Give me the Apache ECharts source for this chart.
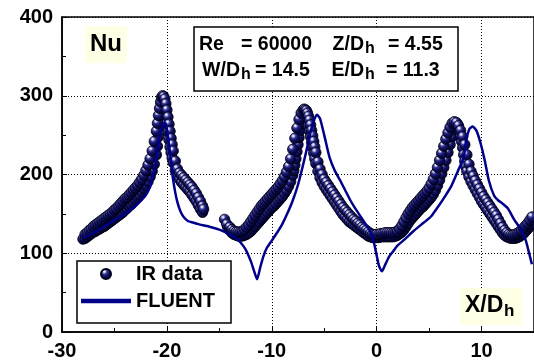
<!DOCTYPE html>
<html>
<head>
<meta charset="utf-8">
<script src="https://cdn.jsdelivr.net/npm/echarts@6/dist/echarts.min.js"></script>
<style>
html, body { margin: 0; padding: 0; background: #fff; }
#chart { width: 534px; height: 362px; }
</style>
</head>
<body>
<div id="chart"></div>
<script>
// Local Nusselt number along the channel wall: IR thermography vs FLUENT prediction

// X axis ticks (X/Dh) and Y axis ticks (Nu)
const xTicks = { min: -30, max: 15, step: 10 };
const yTicks = { min: 0, max: 400, step: 100 };

// IR measurement, first module, lower scan line  [X/Dh, Nu]
const irLowerM1 = [
  [-28.0,118],[-27.8,119],[-27.6,121],[-27.4,123],[-27.2,125],[-27.0,127],[-26.8,128],[-26.6,130],
  [-26.4,131],[-26.2,133],[-26.0,134],[-25.8,136],[-25.6,138],[-25.4,140],[-25.2,142],[-25.0,144],
  [-24.8,146],[-24.6,148],[-24.4,150],[-24.2,152],[-24.0,155],[-23.8,157],[-23.6,160],[-23.4,162],
  [-23.2,165],[-23.0,168],[-22.8,171],[-22.6,174],[-22.4,178],[-22.2,182],[-22.0,186],[-21.8,191],
  [-21.6,197],[-21.4,204],[-21.2,213],[-21.0,225],[-20.9,236],[-20.8,248],[-20.7,260],[-20.6,271],
  [-20.5,281],[-20.4,289],[-20.3,294],[-20.2,286],[-20.1,276],[-20.0,265],[-19.9,254],[-19.8,244],
  [-19.7,235],[-19.6,228],[-19.5,221],[-19.4,215],[-19.2,205],[-19.0,198],[-18.8,194],[-18.6,190],
  [-18.4,187],[-18.2,184],[-18.0,181],[-17.8,178],[-17.6,174],[-17.4,170],[-17.2,166],[-17.0,161],
  [-16.8,156],[-16.6,152]
];

// IR measurement, first module, upper scan line  [X/Dh, Nu]
const irUpperM1 = [
  [-27.8,124],[-27.6,126],[-27.4,129],[-27.2,131],[-27.0,134],[-26.8,136],[-26.6,138],[-26.4,140],
  [-26.2,142],[-26.0,144],[-25.8,146],[-25.6,148],[-25.4,150],[-25.2,152],[-25.0,155],[-24.8,157],
  [-24.6,160],[-24.4,163],[-24.2,166],[-24.0,169],[-23.8,171],[-23.6,174],[-23.4,177],[-23.2,180],
  [-23.0,183],[-22.8,186],[-22.6,190],[-22.4,194],[-22.2,199],[-22.0,205],[-21.8,212],[-21.6,220],
  [-21.4,230],[-21.2,242],[-21.0,255],[-20.9,265],[-20.8,275],[-20.7,284],[-20.6,292],[-20.5,298],
  [-20.4,300],[-20.3,299],[-20.2,296],[-20.1,290],[-20.0,282],[-19.9,273],[-19.8,264],[-19.7,255],
  [-19.6,246],[-19.5,238],[-19.4,230],[-19.2,217],[-19.0,207],[-18.8,202],[-18.6,199],[-18.4,196],
  [-18.2,193],[-18.0,190],[-17.8,187],[-17.6,184],[-17.4,180],[-17.2,176],[-17.0,171],[-16.8,166],
  [-16.6,160],[-16.5,156]
];

// IR measurement, second and third modules, lower scan line  [X/Dh, Nu]
const irLowerM23 = [
  [-14.2,133],[-14.0,129],[-13.8,126],[-13.6,124],[-13.4,123],[-13.2,122],[-13.0,122],[-12.8,122],
  [-12.6,123],[-12.4,124],[-12.2,126],[-12.0,128],[-11.8,131],[-11.6,134],[-11.4,137],[-11.2,140],
  [-11.0,143],[-10.8,146],[-10.6,149],[-10.4,152],[-10.2,155],[-10.0,158],[-9.8,160],[-9.6,163],
  [-9.4,166],[-9.2,169],[-9.0,172],[-8.8,176],[-8.6,180],[-8.4,185],[-8.2,191],[-8.0,199],
  [-7.9,205],[-7.8,212],[-7.7,220],[-7.6,229],[-7.5,238],[-7.4,247],[-7.3,256],[-7.2,264],
  [-7.1,271],[-7.0,276],[-6.9,280],[-6.8,281],[-6.7,276],[-6.6,269],[-6.5,262],[-6.4,255],
  [-6.3,248],[-6.2,241],[-6.1,234],[-6.0,227],[-5.9,220],[-5.8,214],[-5.6,204],[-5.4,196],
  [-5.2,190],[-5.0,185],[-4.8,181],[-4.6,177],[-4.4,173],[-4.2,169],[-4.0,165],[-3.8,161],
  [-3.6,157],[-3.4,153],[-3.2,149],[-3.0,146],[-2.8,143],[-2.6,140],[-2.4,138],[-2.2,136],
  [-2.0,134],[-1.8,132],[-1.6,130],[-1.4,128],[-1.2,126],[-1.0,124],[-0.8,122],[-0.6,121],
  [-0.4,120],[-0.2,120],[0.0,120],[0.2,120],[0.4,121],[0.6,121],[0.8,121],[1.0,121],
  [1.2,121],[1.4,121],[1.6,121],[1.8,122],[2.0,123],[2.2,125],[2.4,127],[2.6,130],
  [2.8,134],[3.0,138],[3.2,142],[3.4,145],[3.6,148],[3.8,151],[4.0,154],[4.2,157],
  [4.4,159],[4.6,162],[4.8,165],[5.0,168],[5.2,171],[5.4,175],[5.6,180],[5.8,186],
  [6.0,193],[6.2,201],[6.4,209],[6.6,218],[6.8,228],[7.0,238],[7.2,248],[7.4,257],
  [7.5,262],[7.6,264],[7.7,264],[7.8,260],[7.9,255],[8.0,249],[8.1,242],[8.2,234],
  [8.3,225],[8.4,217],[8.5,210],[8.6,204],[8.8,197],[9.0,191],[9.2,186],[9.4,181],
  [9.6,176],[9.8,171],[10.0,166],[10.2,162],[10.4,158],[10.6,154],[10.8,150],[11.0,146],
  [11.2,142],[11.4,138],[11.6,134],[11.8,130],[12.0,126],[12.2,123],[12.4,121],[12.6,120],
  [12.8,119],[13.0,119],[13.2,119],[13.4,120],[13.6,121],[13.8,123],[14.0,125],[14.2,128],
  [14.4,131],[14.6,134],[14.8,138]
];

// IR measurement, second and third modules, upper scan line  [X/Dh, Nu]
const irUpperM23 = [
  [-14.5,143],[-14.3,137],[-14.0,133],[-13.8,130],[-13.6,128],[-13.4,127],[-13.2,127],[-13.0,127],
  [-12.8,128],[-12.6,130],[-12.4,133],[-12.2,136],[-12.0,140],[-11.8,144],[-11.6,148],[-11.4,152],
  [-11.2,156],[-11.0,160],[-10.8,163],[-10.6,166],[-10.4,169],[-10.2,172],[-10.0,175],[-9.8,178],
  [-9.6,181],[-9.4,184],[-9.2,188],[-9.0,192],[-8.8,197],[-8.6,203],[-8.4,210],[-8.2,220],
  [-8.0,232],[-7.8,246],[-7.6,259],[-7.4,270],[-7.2,278],[-7.0,282],[-6.9,283],[-6.8,282],
  [-6.7,281],[-6.6,278],[-6.5,274],[-6.4,269],[-6.3,263],[-6.2,256],[-6.1,249],[-6.0,242],
  [-5.9,235],[-5.8,228],[-5.6,216],[-5.4,207],[-5.2,200],[-5.0,194],[-4.8,190],[-4.6,186],
  [-4.4,182],[-4.2,178],[-4.0,174],[-3.8,170],[-3.6,166],[-3.4,162],[-3.2,158],[-3.0,155],
  [-2.8,152],[-2.6,149],[-2.4,146],[-2.2,143],[-2.0,141],[-1.8,138],[-1.6,136],[-1.4,133],
  [-1.2,131],[-1.0,129],[-0.8,127],[-0.6,125],[-0.4,124],[-0.2,123],[0.0,124],[0.2,124],
  [0.4,125],[0.6,125],[0.8,126],[1.0,126],[1.2,126],[1.4,126],[1.6,126],[1.8,127],
  [2.0,128],[2.2,131],[2.4,135],[2.6,140],[2.8,145],[3.0,150],[3.2,154],[3.4,158],
  [3.6,161],[3.8,164],[4.0,167],[4.2,170],[4.4,173],[4.6,176],[4.8,179],[5.0,183],
  [5.2,188],[5.4,194],[5.6,201],[5.8,209],[6.0,218],[6.2,227],[6.4,236],[6.6,245],
  [6.8,253],[7.0,260],[7.2,265],[7.4,267],[7.6,266],[7.8,262],[8.0,256],[8.2,248],
  [8.4,238],[8.6,225],[8.8,213],[9.0,204],[9.2,198],[9.4,192],[9.6,187],[9.8,182],
  [10.0,177],[10.2,172],[10.4,168],[10.6,164],[10.8,160],[11.0,156],[11.2,152],[11.4,148],
  [11.6,143],[11.8,138],[12.0,133],[12.2,129],[12.4,126],[12.6,124],[12.8,123],[13.0,123],
  [13.2,124],[13.4,125],[13.6,127],[13.8,129],[14.0,132],[14.2,135],[14.4,138],[14.6,142],
  [14.8,146]
];

// FLUENT prediction  [X/Dh, Nu]
const fluent = [
  [-28.0,119],[-27.0,126],[-26.0,134],[-25.0,142],[-24.0,150],[-23.0,160],[-22.0,174],[-21.6,185],
  [-21.3,200],[-21.0,222],[-20.8,240],[-20.6,255],[-20.4,263],[-20.2,266],[-20.0,258],[-19.8,238],
  [-19.6,215],[-19.4,193],[-19.2,177],[-19.0,165],[-18.7,153],[-18.4,146],[-18.0,141],[-17.5,139],
  [-17.0,137],[-16.0,134],[-15.0,130],[-14.0,124],[-13.5,120],[-13.0,114],[-12.5,105],[-12.0,90],
  [-11.7,78],[-11.4,67],[-11.1,82],[-10.8,96],[-10.5,106],[-10.0,116],[-9.5,126],[-9.0,137],
  [-8.5,151],[-8.0,167],[-7.5,187],[-7.0,213],[-6.6,236],[-6.3,254],[-6.0,268],[-5.7,276],
  [-5.4,271],[-5.0,250],[-4.5,222],[-4.0,205],[-3.5,193],[-3.0,180],[-2.5,167],[-2.0,156],
  [-1.5,146],[-1.0,136],[-0.5,125],[-0.2,110],[0.2,85],[0.5,77],[0.8,85],[1.2,96],
  [1.6,103],[2.0,110],[2.7,118],[3.5,128],[4.5,139],[5.2,147],[5.9,160],[6.5,172],
  [7.1,185],[7.6,200],[8.0,212],[8.3,222],[8.55,244],[8.85,258],[9.15,261],[9.5,256],
  [9.9,240],[10.3,218],[10.7,192],[11.2,173],[11.6,167],[12.0,163],[12.5,157],[13.1,143],
  [13.7,131],[14.2,117],[14.5,102],[14.8,86]
];

const FONT = '"Liberation Sans", Arial, sans-serif';
const NAVY = '#00008a';

// shaded ball marker
const sphere = {
  type: 'radial', x: 0.36, y: 0.3, r: 0.72,
  colorStops: [
    { offset: 0, color: '#ffffff' },
    { offset: 0.12, color: '#c8c8ee' },
    { offset: 0.3, color: '#3a3a98' },
    { offset: 0.55, color: '#101062' },
    { offset: 1, color: '#010122' }
  ]
};

function label(text, x, y, size, align) {
  return {
    type: 'text', x: x, y: y, z: 110,
    style: {
      text: text, fill: '#000', align: align || 'left', verticalAlign: 'middle',
      font: 'bold ' + size + 'px ' + FONT
    }
  };
}

const axisCommon = {
  axisLine: { show: true, onZero: false, lineStyle: { color: '#000', width: 1.5 } },
  axisTick: { show: true, inside: true, length: 5, lineStyle: { color: '#000', width: 1 } },
  minorTick: { show: true, splitNumber: 2, length: 4, lineStyle: { color: '#000', width: 1 } },
  splitLine: { show: true, lineStyle: { color: '#000', width: 1, type: [1, 2] } },
  axisLabel: { color: '#000', fontSize: 20, fontWeight: 'bold', fontFamily: FONT }
};

function irSeries(data) {
  return {
    name: 'IR data', type: 'scatter', symbol: 'circle', symbolSize: 10.5, z: 2,
    itemStyle: { color: sphere, borderColor: '#000014', borderWidth: 0.8, opacity: 1 },
    data: data
  };
}

const chart = echarts.init(document.getElementById('chart'), null, { renderer: 'canvas' });

chart.setOption({
  backgroundColor: '#fff',
  animation: false,
  grid: {
    left: 62, top: 17, right: -2, bottom: 30,
    show: true, borderColor: '#000', borderWidth: 1.5, backgroundColor: 'transparent'
  },
  xAxis: Object.assign({}, axisCommon, {
    type: 'value', min: xTicks.min, max: xTicks.max, interval: xTicks.step,
    axisLabel: Object.assign({}, axisCommon.axisLabel, { margin: 9, showMaxLabel: false })
  }),
  yAxis: Object.assign({}, axisCommon, {
    type: 'value', min: yTicks.min, max: yTicks.max, interval: yTicks.step,
    axisLabel: Object.assign({}, axisCommon.axisLabel, { margin: 9 })
  }),
  legend: {
    left: 77, top: 261, orient: 'vertical',
    backgroundColor: '#fff', borderColor: '#000', borderWidth: 1.5,
    padding: [3, 5, 12, 4], itemGap: 7, itemWidth: 50, itemHeight: 10,
    textStyle: { color: '#000', fontSize: 20, fontWeight: 'bold', fontFamily: FONT, lineHeight: 20, width: 90 },
    data: [
      { name: 'IR data' },
      { name: 'FLUENT', icon: 'path://M0,0H50V4.5H0Z', itemStyle: { color: NAVY } }
    ]
  },
  series: [
    irSeries(irLowerM1),
    irSeries(irUpperM1),
    irSeries(irLowerM23),
    irSeries(irUpperM23),
    {
      name: 'FLUENT', type: 'line', symbol: 'none', smooth: 0.2, z: 3,
      lineStyle: { color: NAVY, width: 2.5 },
      itemStyle: { color: NAVY },
      data: fluent
    }
  ],
  graphic: [
    // Nu tag
    { type: 'rect', z: 100, shape: { x: 85, y: 26, width: 42, height: 37 }, style: { fill: '#ffffe6' } },
    label('Nu', 106, 44.5, 24, 'center'),
    // flow parameters box
    { type: 'rect', z: 100, shape: { x: 194, y: 27, width: 264, height: 64 }, style: { fill: '#fff', stroke: '#000', lineWidth: 1.5 } },
    label('Re', 199, 44.5, 19.5),
    label('= 60000', 241, 44.5, 19.5),
    label('Z/D', 364, 44.5, 19.5, 'right'),
    label('h', 365, 48.5, 16),
    label('= 4.55', 388, 44.5, 19.5),
    label('W/D', 240, 71, 19.5, 'right'),
    label('h', 241, 75, 16),
    label('= 14.5', 255, 71, 19.5),
    label('E/D', 364, 71, 19.5, 'right'),
    label('h', 365, 75, 16),
    label('= 11.3', 386, 71, 19.5),
    // X/Dh tag
    { type: 'rect', z: 100, shape: { x: 460, y: 288, width: 62, height: 37 }, style: { fill: '#ffffe6' } },
    label('X/D', 465, 305.5, 23),
    label('h', 504, 311, 17)
  ]
});
</script>
</body>
</html>
